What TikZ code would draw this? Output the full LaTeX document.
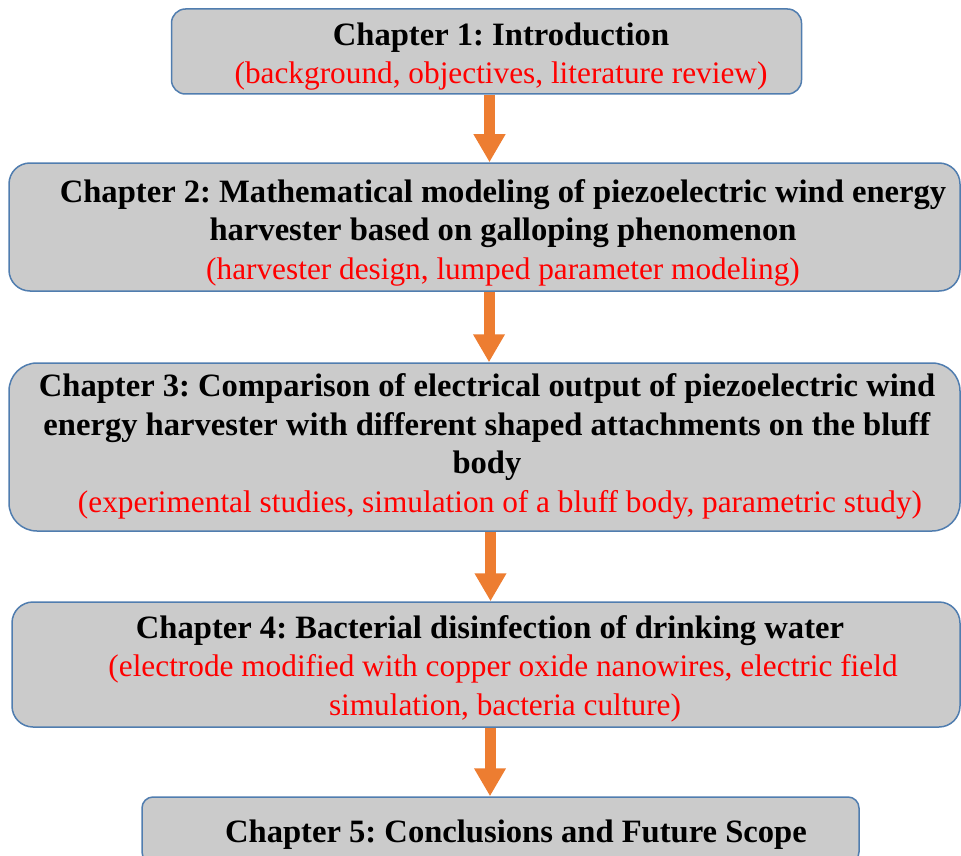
\documentclass[tikz,border=0pt]{standalone}
\usepackage{fontspec}
\setmainfont{Liberation Serif}
\usetikzlibrary{arrows.meta}
\frenchspacing
\definecolor{boxgray}{RGB}{203,203,203}
\definecolor{boxblue}{RGB}{80,125,175}
\definecolor{floworange}{RGB}{237,125,49}
\newcommand{\chapnote}[1]{{\fontsize{31.3}{38.5}\selectfont\textcolor{red}{#1}}}
\begin{document}
\begin{tikzpicture}[x=1pt,y=-1pt,
    chapbox/.style={draw=boxblue,line width=1.5pt,fill=boxgray,inner sep=0pt},
    chaptext/.style={align=center,inner sep=0pt,font=\fontsize{32.6}{38.5}\selectfont},
    flow/.style={draw=floworange,line width=11pt,-{Triangle[width=30pt,length=28pt]}}]
  \useasboundingbox (0,0) rectangle (961,856);
  % chapter boxes
  \node [chapbox,minimum width=630pt,minimum height=85pt,rounded corners=14pt] (c1) at (486.5,51.5) {};
  \node [chapbox,minimum width=951pt,minimum height=128pt,rounded corners=21pt] (c2) at (484.5,227) {};
  \node [chapbox,minimum width=951pt,minimum height=168pt,rounded corners=28pt] (c3) at (484.5,447) {};
  \node [chapbox,minimum width=948pt,minimum height=125pt,rounded corners=21pt] (c4) at (486,664.5) {};
  \node [chapbox,minimum width=717pt,minimum height=66pt,rounded corners=11pt] (c5) at (500.5,830) {};
  % texts
  \node [chaptext] (t1) at (501,56.5) {\textbf{Chapter 1: Introduction}\\
    \chapnote{(background, objectives, literature review)}};
  \node [chaptext] (t2) at (503,232.5) {\textbf{Chapter 2: Mathematical modeling of piezoelectric wind energy}\\
    \textbf{harvester based on galloping phenomenon}\\
    \chapnote{(harvester design, lumped parameter modeling)}};
  \node [chaptext] (t3) at (487,446.5) {\textbf{Chapter 3: Comparison of electrical output of piezoelectric wind}\\
    \textbf{energy harvester with different shaped attachments on the bluff}\\
    \textbf{body}\\
    \hspace*{26pt}\chapnote{(experimental studies, simulation of a bluff body, parametric study)}};
  \node [chaptext] (t4) at (490,668.5) {\textbf{Chapter 4: Bacterial disinfection of drinking water}\\
    \hspace*{26pt}\chapnote{(electrode modified with copper oxide nanowires, electric field}\\
    \hspace*{30pt}\chapnote{simulation, bacteria culture)}};
  \node [chaptext] (t5) at (516,834.5) {\textbf{Chapter 5: Conclusions and Future Scope}};
  % arrows
  \draw [flow] ([xshift=3pt]c1.south) -- ([xshift=5pt]c2.north);
  \draw [flow] ([xshift=4.5pt]c2.south) -- ([xshift=4.5pt]c3.north);
  \draw [flow] ([xshift=6pt]c3.south) -- ([xshift=4.5pt]c4.north);
  \draw [flow] ([xshift=4pt]c4.south) -- ([xshift=-10.5pt]c5.north);
\end{tikzpicture}
\end{document}
